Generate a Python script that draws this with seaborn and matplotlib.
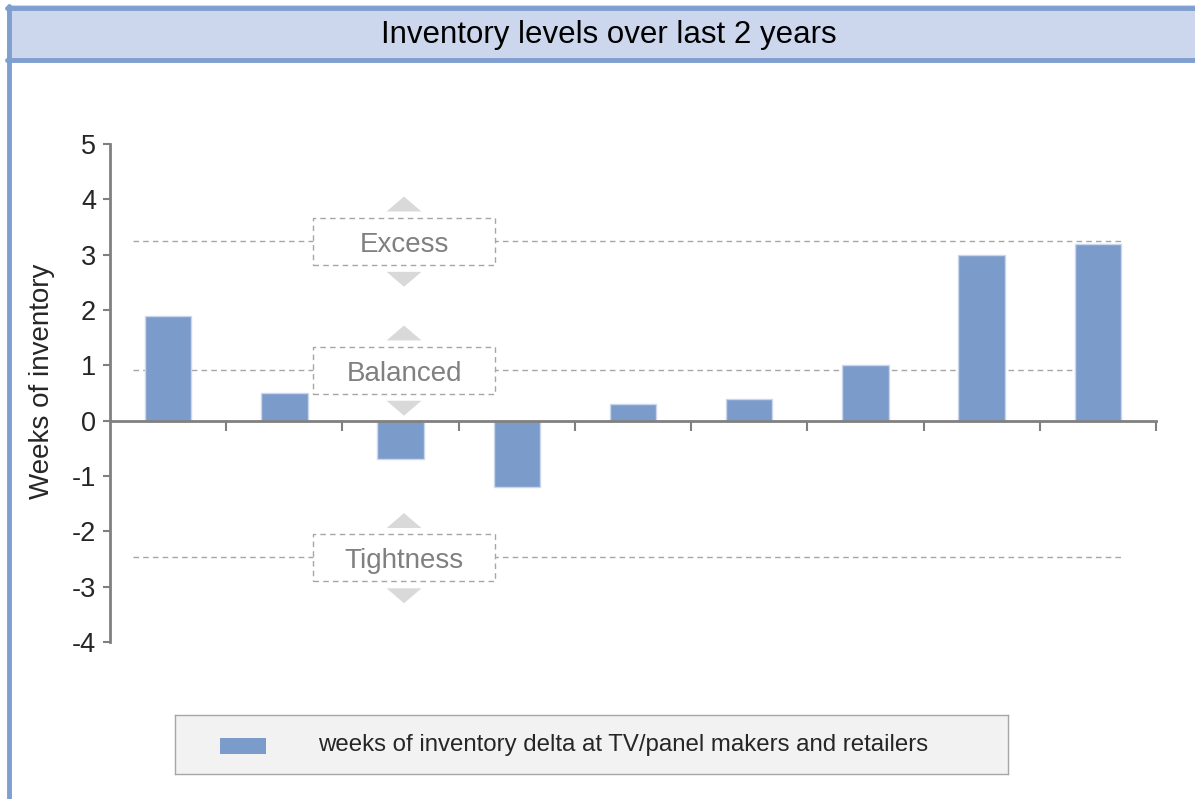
import numpy as np
import pandas as pd
import seaborn as sns
import matplotlib.pyplot as plt
from matplotlib.patches import Rectangle, Polygon
from matplotlib.lines import Line2D

# Данные
periods = ["P1", "P2", "P3", "P4", "P5", "P6", "P7", "P8", "P9"]
weeks_delta = [1.9, 0.5, -0.7, -1.2, 0.3, 0.4, 1.0, 3.0, 3.2]
zone_names = ["Excess", "Balanced", "Tightness"]
zone_levels = [3.25, 0.92, -2.47]
legend_label = "weeks of inventory delta at TV/panel makers and retailers"

W, H = 1195, 799
bar_color = "#7B9BCB"
frame_blue = "#7F9FCF"
grey = "#808080"

sns.set_style("white")
plt.rcParams['font.family'] = ['Liberation Sans', 'DejaVu Sans']
plt.rcParams['axes.unicode_minus'] = False

fig = plt.figure(figsize=(W / 100, H / 100), dpi=100)


def fx(px):
    return px / W


def fy(py):
    return 1 - py / H


# рамка и заголовок
fig.patches.append(Rectangle((fx(7), fy(62)), fx(W), 57 / H, transform=fig.transFigure,
                             facecolor="#CCD7EE", edgecolor="none", zorder=0))
for y0 in (7.5, 60):
    fig.lines.append(Line2D([fx(7), 1], [fy(y0), fy(y0)], transform=fig.transFigure,
                            color=frame_blue, lw=3.5))
fig.lines.append(Line2D([fx(9), fx(9)], [fy(5.5), 0], transform=fig.transFigure,
                        color=frame_blue, lw=3.5))
fig.text(fx(609), fy(35), "Inventory levels over last 2 years", ha="center", va="center",
         fontsize=22.5, color="black")

ax = fig.add_axes([fx(110), fy(642), fx(1156 - 110), (642 - 144) / H])
df = pd.DataFrame({"period": periods, "delta": weeks_delta})
sns.barplot(data=df, x="period", y="delta", color=bar_color, saturation=1, width=0.4,
            edgecolor="#C9D6EC", linewidth=1, ax=ax, zorder=3)

ax.set_xlim(-0.5, len(periods) - 0.5)
ax.set_ylim(-4, 5)
ax.set_yticks(range(-4, 6))
ax.tick_params(axis="y", labelsize=19.5, length=5, width=1.5, color=grey, pad=5,
               direction="out", left=True)
ax.set_xticks(np.arange(0.5, len(periods), 1.0))
ax.set_xticklabels([])
ax.tick_params(axis="x", length=7, width=1.5, color=grey, direction="out", bottom=True)
ax.set_xlabel("")
ax.set_ylabel("Weeks of inventory", fontsize=20)
ax.yaxis.set_label_coords(-0.053, 0.524)
for s in ("top", "right"):
    ax.spines[s].set_visible(False)
ax.spines["left"].set_color(grey)
ax.spines["left"].set_linewidth(2)
ax.spines["bottom"].set_position(("data", 0))
ax.spines["bottom"].set_color(grey)
ax.spines["bottom"].set_linewidth(2)
ax.spines["bottom"].set_zorder(4)

# зоны: пунктир, подписи в рамках, стрелки
box_cx = 2.03
box_hw = 0.78
for name, lvl in zip(zone_names, zone_levels):
    ax.plot([-0.3, 8.2], [lvl, lvl], ls=(0, (4, 3)), color="#A6A6A6", lw=1, zorder=1)
    ax.add_patch(Rectangle((box_cx - box_hw, lvl - 0.43), 2 * box_hw, 0.85,
                           facecolor="white", edgecolor="#A6A6A6", lw=1,
                           ls=(0, (4, 3)), zorder=2))
    ax.text(box_cx, lvl - 0.02, name, ha="center", va="center_baseline", fontsize=20,
            color=grey, zorder=5)
    up = [(box_cx - 0.15, lvl + 0.53), (box_cx + 0.15, lvl + 0.53), (box_cx, lvl + 0.8)]
    dn = [(box_cx - 0.15, lvl - 0.56), (box_cx + 0.15, lvl - 0.56), (box_cx, lvl - 0.83)]
    for tri in (up, dn):
        ax.add_patch(Polygon(tri, closed=True, facecolor="#D9D9D9", edgecolor="none", zorder=2))

# легенда
lax = fig.add_axes([fx(175), fy(774), fx(1008 - 175), (774 - 715) / H])
lax.set_xlim(0, 1008 - 175)
lax.set_ylim(0, 59)
lax.set_facecolor("#F2F2F2")
for s in lax.spines.values():
    s.set_color("#A6A6A6")
    s.set_linewidth(1)
lax.set_xticks([])
lax.set_yticks([])
lax.add_patch(Rectangle((220 - 175, 774 - 754), 46, 16, facecolor=bar_color, edgecolor="none"))
lax.text(318 - 175, 29, legend_label, ha="left", va="center", fontsize=17.3)

fig.savefig("out.png", dpi=100)
